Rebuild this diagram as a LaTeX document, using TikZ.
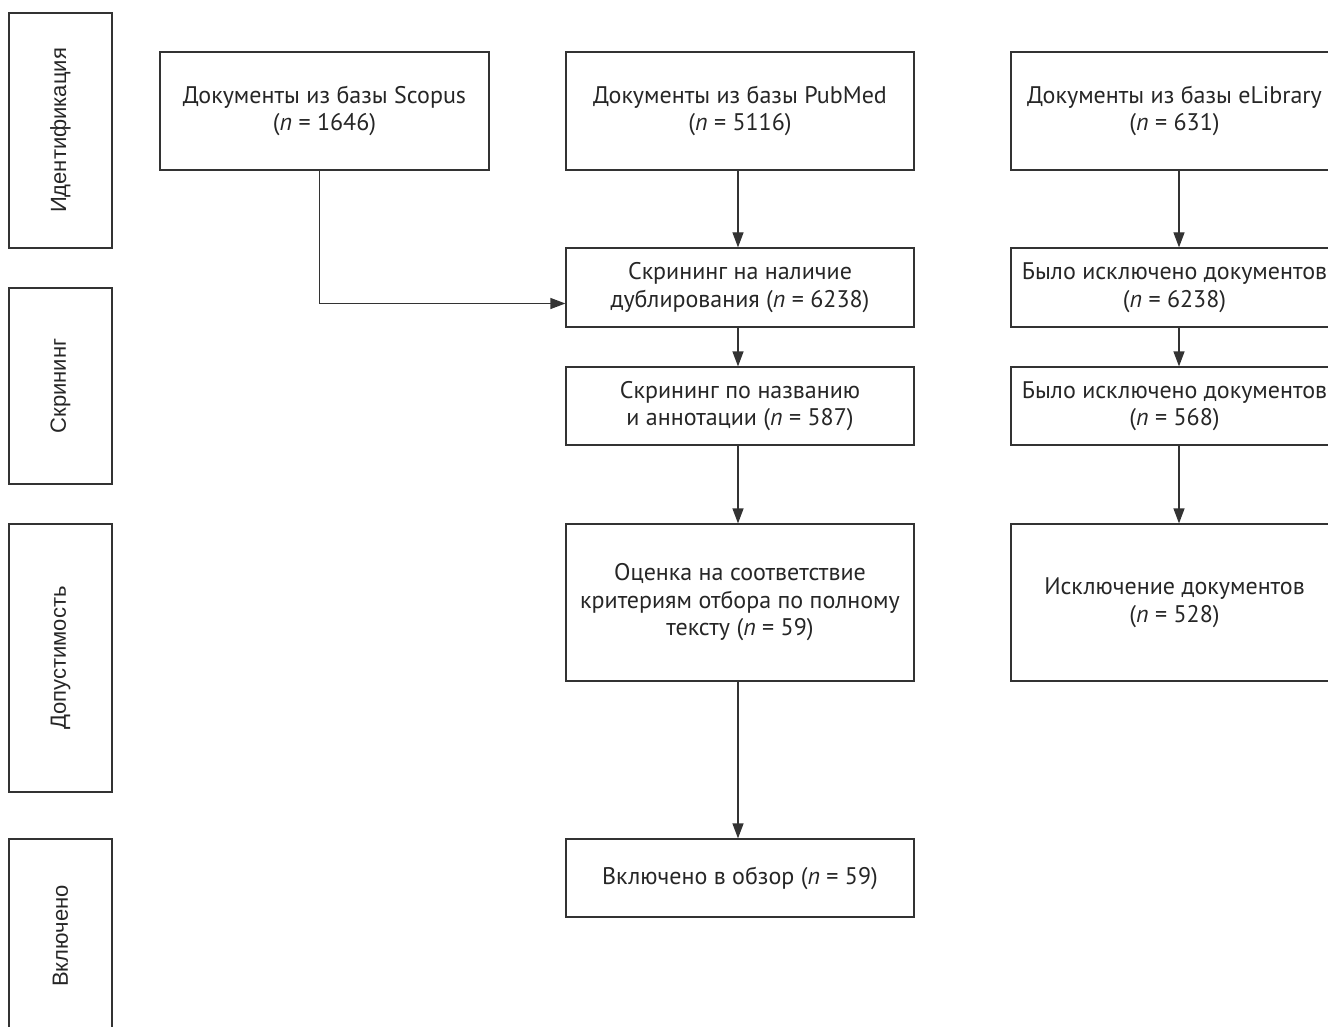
\documentclass[tikz,border=0pt]{standalone}
\usepackage{fontspec}
\setmainfont{PT Sans}
\newfontfamily\stagefont{Liberation Sans}
\usetikzlibrary{arrows.meta}
\newcommand{\nn}{\textit{n}}
\begin{document}
\begin{tikzpicture}
                [x=1pt, y=-1pt,
                 stage/.style={draw=black!80, line width=1.2pt, rotate=90, minimum height=103pt, inner sep=0pt, font=\stagefont\fontsize{22}{26}\selectfont, text=black!85},
                 box/.style={draw=black!80, line width=1.2pt, align=center, inner sep=0pt, font=\fontsize{24}{27.5}\selectfont, text=black!85},
                 edge/.style={draw=black!80, line width=1.2pt, -{Triangle[length=15pt,width=11pt]}}]
                \useasboundingbox (0,0) rectangle (1328,1027);
                \clip (0,0) rectangle (1328,1027);
                % Define stages
                \node[stage, minimum width=235pt] (S1) at (60.5,130.5) {Идентификация};
                \node[stage, minimum width=196pt] (S2) at (60.5,386) {Скрининг};
                \node[stage, minimum width=268pt] (S3) at (60.5,658) {Допустимость};
                \node[stage, minimum width=194pt] (S4) at (60.5,936) {Включено};
                % Define nodes
                \node[box, minimum width=329pt, minimum height=118pt] (scopus) at (324.5,111) {Документы из базы Scopus\\(\nn{} = 1646)};
                \node[box, minimum width=348pt, minimum height=118pt] (pubmed) at (740,111) {Документы из базы PubMed\\(\nn{} = 5116)};
                \node[box, minimum width=327pt, minimum height=118pt] (elib) at (1174.5,111) {Документы из базы eLibrary\\(\nn{} = 631)};
                \node[box, minimum width=348pt, minimum height=79pt] (dup) at (740,287.5) {Скрининг на наличие\\дублирования (\nn{} = 6238)};
                \node[box, minimum width=348pt, minimum height=78pt] (title) at (740,406) {Скрининг по названию\\и аннотации (\nn{} = 587)};
                \node[box, minimum width=348pt, minimum height=157pt] (full) at (740,602.5) {Оценка на соответствие\\критериям отбора по полному\\тексту (\nn{} = 59)};
                \node[box, minimum width=348pt, minimum height=78pt] (incl) at (740,878) {Включено в обзор (\nn{} = 59)};
                \node[box, minimum width=327pt, minimum height=79pt] (excl1) at (1174.5,287.5) {Было исключено документов\\(\nn{} = 6238)};
                \node[box, minimum width=327pt, minimum height=78pt] (excl2) at (1174.5,406) {Было исключено документов\\(\nn{} = 568)};
                \node[box, minimum width=327pt, minimum height=157pt] (excl3) at (1174.5,602.5) {Исключение документов\\(\nn{} = 528)};
                % Define edges
                \draw[edge] ([xshift=-5pt]scopus.south) |- ([yshift=-16pt]dup.west);
                \draw[edge] ([xshift=-2pt]pubmed.south) -- ([xshift=-2pt]dup.north);
                \draw[edge] ([xshift=-2pt]dup.south) -- ([xshift=-2pt]title.north);
                \draw[edge] ([xshift=-2pt]title.south) -- ([xshift=-2pt]full.north);
                \draw[edge] ([xshift=-2pt]full.south) -- ([xshift=-2pt]incl.north);
                \draw[edge] ([xshift=4.5pt]elib.south) -- ([xshift=4.5pt]excl1.north);
                \draw[edge] ([xshift=4.5pt]excl1.south) -- ([xshift=4.5pt]excl2.north);
                \draw[edge] ([xshift=4.5pt]excl2.south) -- ([xshift=4.5pt]excl3.north);
            \end{tikzpicture}
\end{document}
